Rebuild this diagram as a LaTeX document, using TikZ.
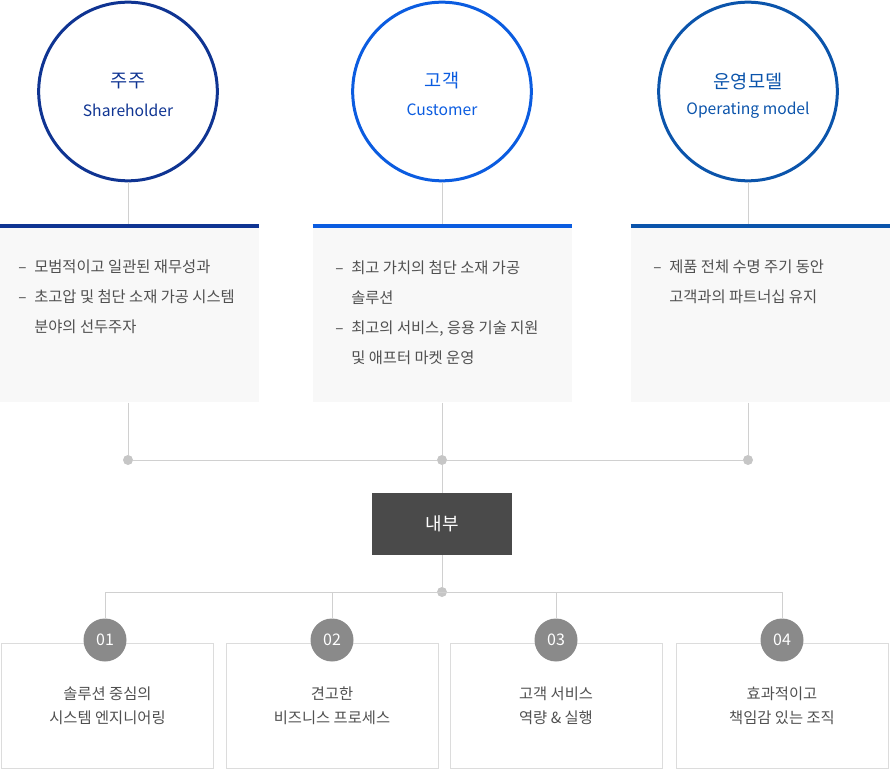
\documentclass[tikz,border=0pt]{standalone}
\usepackage{fontspec}
\setmainfont{Noto Sans CJK KR}
\usetikzlibrary{positioning, calc}
\definecolor{navy}{HTML}{0F3492}
\definecolor{custblue}{HTML}{0B5CE0}
\definecolor{opblue}{HTML}{0B54AB}
\definecolor{boxgrey}{HTML}{F8F8F8}
\definecolor{bodygrey}{HTML}{505050}
\definecolor{linegrey}{HTML}{D0D0D0}
\definecolor{dotgrey}{HTML}{C6C6C6}
\definecolor{boxline}{HTML}{DCDCDC}
\definecolor{darkbox}{HTML}{4A4A4A}
\definecolor{numgrey}{HTML}{8A8A8A}
\newcommand{\itemdash}{\makebox[12pt][l]{–}}
\newcommand{\itemskip}{\hspace*{12pt}}

\begin{document}
\begin{tikzpicture}[x=0.75pt, y=-0.75pt,
	role/.style={circle, draw=#1, line width=2.25pt, minimum size=134pt, inner sep=0pt},
	roletitle/.style={text=#1, font=\fontsize{14}{14}\selectfont, inner sep=0pt},
	rolesub/.style={text=#1, font=\fontsize{11.75}{11.75}\selectfont, inner sep=0pt},
	panel/.style={fill=boxgrey, minimum width=194.25pt, minimum height=133.5pt, anchor=north, inner sep=0pt},
	items/.style={anchor=north west, align=left, inner sep=0pt, text=bodygrey, font=\fontsize{11.5}{22.5}\selectfont},
	wire/.style={draw=linegrey, line width=0.75pt},
	dot/.style={circle, fill=dotgrey, minimum size=7.5pt, inner sep=0pt},
	core/.style={fill=darkbox, text=white, minimum width=105pt, minimum height=46.5pt, inner sep=0pt, font=\fontsize{13.5}{13.5}\selectfont},
	num/.style={circle, fill=numgrey, text=white, minimum size=32.25pt, inner sep=0pt, font=\fontsize{12}{12}\selectfont},
	task/.style={draw=boxline, line width=0.75pt, minimum width=159pt, minimum height=93.75pt, inner sep=0pt},
	tasktext/.style={align=center, text=bodygrey, font=\fontsize{11.5}{18}\selectfont, inner sep=0pt}]
	\useasboundingbox (0, 0) rectangle (890, 770);

	% three outer views
	\node[role=navy] (share) at (128, 91.5) {};
	\node[role=custblue] (cust) at (442, 91.5) {};
	\node[role=opblue] (oper) at (748, 91.5) {};
	\node[roletitle=navy] (share-t) at (128, 81) {주주};
	\node[rolesub=navy] (share-s) at (128, 110) {Shareholder};
	\node[roletitle=custblue] (cust-t) at (442, 81) {고객};
	\node[rolesub=custblue] (cust-s) at (442, 110) {Customer};
	\node[roletitle=opblue] (oper-t) at (748, 81) {운영모델};
	\node[rolesub=opblue] (oper-s) at (748, 110) {Operating model};

	% panels under the circles
	\node[panel] (p1) at (129.5, 224) {};
	\node[panel] (p2) at (442.5, 224) {};
	\node[panel] (p3) at (760.5, 224) {};
	\draw[navy, line width=3pt] ($(p1.north west)+(0, 2)$) -- ($(p1.north east)+(0, 2)$);
	\draw[custblue, line width=3pt] ($(p2.north west)+(0, 2)$) -- ($(p2.north east)+(0, 2)$);
	\draw[opblue, line width=3pt] ($(p3.north west)+(0, 2)$) -- ($(p3.north east)+(0, 2)$);
	\node[items] (p1-t) at (18, 260) {\itemdash 모범적이고 일관된 재무성과\\
		\itemdash 초고압 및 첨단 소재 가공 시스템\\
		\itemskip 분야의 선두주자};
	\node[items] (p2-t) at (335, 260) {\itemdash 최고 가치의 첨단 소재 가공\\
		\itemskip 솔루션\\
		\itemdash 최고의 서비스, 응용 기술 지원\\
		\itemskip 및 애프터 마켓 운영};
	\node[items] (p3-t) at (653, 260) {\itemdash 제품 전체 수명 주기 동안\\
		\itemskip 고객과의 파트너십 유지};

	\draw[wire] (share.south) -- (share.south |- p1.north);
	\draw[wire] (cust.south) -- (cust.south |- p2.north);
	\draw[wire] (oper.south) -- (oper.south |- p3.north);

	% joining line and the inner box
	\node[dot] (j1) at (128, 460) {};
	\node[dot] (j2) at (442, 460) {};
	\node[dot] (j3) at (748, 460) {};
	\draw[wire] (j1 |- p1.south) -- (j1);
	\draw[wire] (j2 |- p2.south) -- (j2);
	\draw[wire] (j3 |- p3.south) -- (j3);
	\draw[wire] (j1) -- (j2) -- (j3);
	\node[core] (inner) at (442, 524) {내부};
	\draw[wire] (j2) -- (inner);
	\node[dot] (j4) at (442, 592) {};
	\draw[wire] (inner) -- (j4);

	% four capabilities
	\node[task] (t1) at (107.5, 705.5) {};
	\node[task] (t2) at (332, 705.5) {};
	\node[task] (t3) at (556, 705.5) {};
	\node[task] (t4) at (782, 705.5) {};
	\node[tasktext] (t1-t) at (t1) {솔루션 중심의\\시스템 엔지니어링};
	\node[tasktext] (t2-t) at (t2) {견고한\\비즈니스 프로세스};
	\node[tasktext] (t3-t) at (t3) {고객 서비스\\역량 \& 실행};
	\node[tasktext] (t4-t) at (t4) {효과적이고\\책임감 있는 조직};
	\node[num] (n1) at (105, 640) {01};
	\node[num] (n2) at (332, 640) {02};
	\node[num] (n3) at (556, 640) {03};
	\node[num] (n4) at (782, 640) {04};
	\draw[wire] (n1 |- j4) -- (n4 |- j4);
	\foreach \n in {n1, n2, n3, n4}
		\draw[wire] (\n |- j4) -- (\n.north);
\end{tikzpicture}
\end{document}
